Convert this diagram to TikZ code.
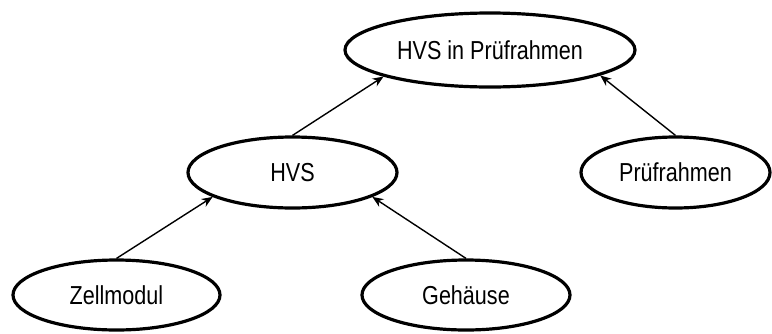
\documentclass[tikz,border=0pt]{standalone}
\usepackage{fontspec}
\setmainfont[FakeStretch=0.83]{Liberation Sans}
\usetikzlibrary{shapes.geometric,arrows.meta}

\begin{document}
\begin{tikzpicture}[x=1pt, y=-1pt]
				\tikzstyle{every node}=[inner sep=0pt, align=center, font=\fontsize{26}{30}\selectfont]
				\tikzstyle{part}=[ellipse, draw, line width=3.2pt, minimum height=71pt]
				\tikzstyle{link}=[line width=1.4pt, -{Stealth[length=11pt, width=9pt]}]
				\useasboundingbox (0, 0) rectangle (772, 333);
				\node[part, minimum width=290pt, minimum height=74pt] (ALL) at (490, 50) {HVS in Prüfrahmen};
				\node[part, minimum width=209pt] (HVS) at (292.5, 172.5) {HVS};
				\node[part, minimum width=189pt] (PR) at (675.5, 172.5) {Prüfrahmen};
				\node[part, minimum width=207pt, minimum height=70pt] (ZM) at (116.5, 295) {Zellmodul};
				\node[part, minimum width=208pt, minimum height=70pt] (GH) at (466, 295) {Gehäuse};
				\draw [link] (ZM.north) -- (HVS.197);
				\draw [link] (GH.north) -- (HVS.343);
				\draw [link] (HVS.north) -- (ALL.194);
				\draw [link] (PR.north) -- (ALL.347);
		\end{tikzpicture}
\end{document}
